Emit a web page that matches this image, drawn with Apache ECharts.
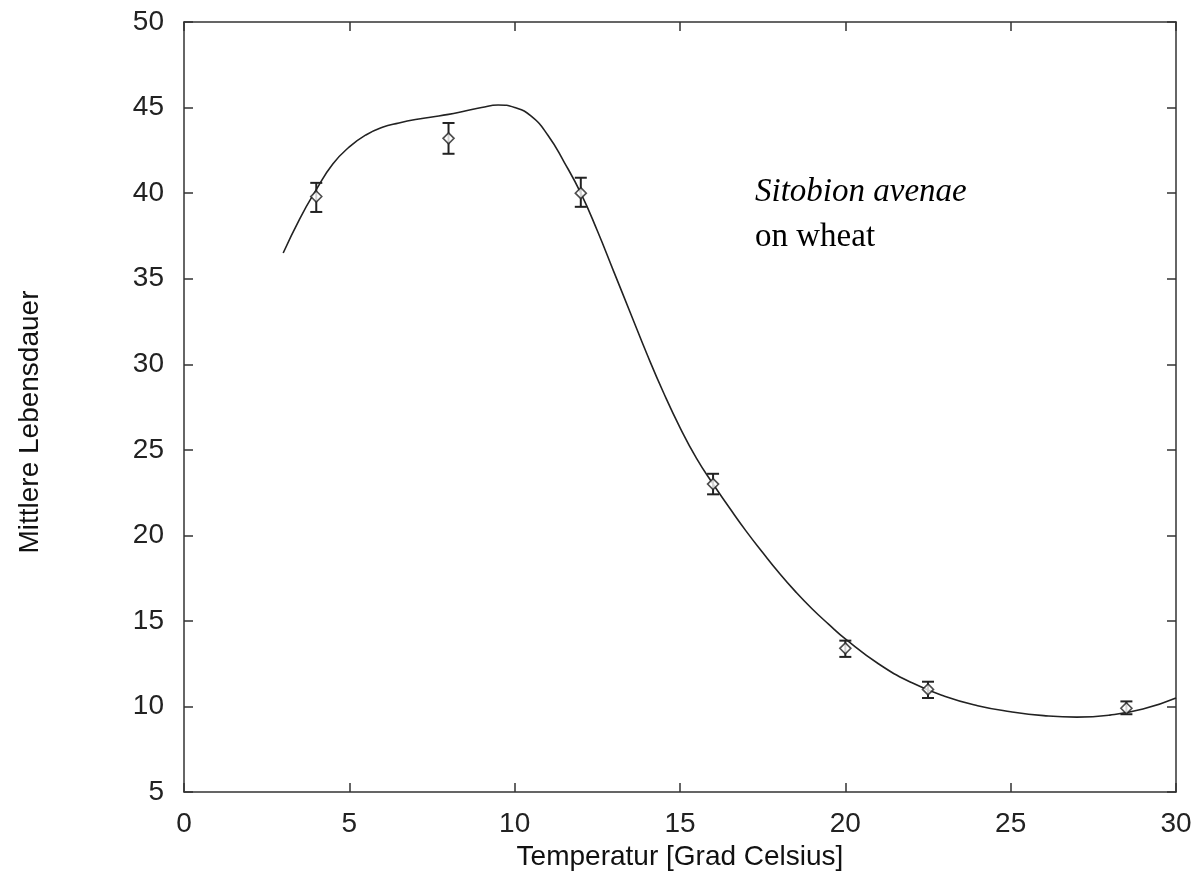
<!DOCTYPE html>
<html>
<head>
<meta charset="utf-8">
<script src="https://cdn.jsdelivr.net/npm/echarts@6/dist/echarts.min.js"></script>
<style>html,body{margin:0;padding:0;background:#fff}#c{width:1198px;height:876px}</style>
</head>
<body>
<div id="c"></div>
<script>
// Measured data points (temperature, mean lifespan, error range)
var tempPoints = [4, 8, 12, 16, 20, 22.5, 28.5];
var lifeMean   = [39.8, 43.2, 40.0, 23.0, 13.4, 11.0, 9.9];
var errLow     = [38.9, 42.3, 39.2, 22.4, 12.9, 10.5, 9.55];
var errHigh    = [40.6, 44.1, 40.9, 23.6, 13.85, 11.45, 10.3];

// Fitted curve
var curveX = [3, 3.5, 4, 4.5, 5, 5.5, 6, 6.5, 7, 7.5, 8, 8.5, 9, 9.5, 10, 10.5, 11, 11.5, 12, 12.5, 13, 13.5, 14, 14.5, 15, 15.5, 16, 16.5, 17, 17.5, 18, 18.5, 19, 19.5, 20, 21, 22, 23, 24, 25, 26, 27, 28, 29, 30];
var curveY = [36.5, 38.5, 40.2, 41.7, 42.7, 43.4, 43.85, 44.1, 44.3, 44.45, 44.6, 44.8, 45.0, 45.15, 45.0, 44.5, 43.4, 41.8, 40.0, 37.8, 35.4, 33.0, 30.6, 28.35, 26.3, 24.5, 23.0, 21.6, 20.25, 19.0, 17.8, 16.7, 15.7, 14.8, 13.95, 12.5, 11.4, 10.6, 10.05, 9.7, 9.47, 9.38, 9.5, 9.85, 10.5];

var xTicks = [0, 5, 10, 15, 20, 25, 30];
var yTicks = [5, 10, 15, 20, 25, 30, 35, 40, 45, 50];

var xTitle = 'Temperatur [Grad Celsius]';
var yTitle = 'Mittlere Lebensdauer';
var noteItalic = 'Sitobion avenae';
var noteNormal = 'on wheat';

var curveData = curveX.map(function (x, i) { return [x, curveY[i]]; });
var pointData = tempPoints.map(function (x, i) { return [x, lifeMean[i]]; });
var errData = tempPoints.map(function (x, i) { return [x, errLow[i], errHigh[i]]; });

var frame = '#333';
var sans = 'Liberation Sans, Arial, sans-serif';
function tick() { return { show: true, inside: true, length: 9, lineStyle: { color: frame, width: 1.5 } }; }
function line() { return { show: true, onZero: false, lineStyle: { color: frame, width: 1.5 } }; }

var chart = echarts.init(document.getElementById('c'));
chart.setOption({
  backgroundColor: '#fff',
  animation: false,
  grid: { left: 184, right: 22, top: 22, bottom: 82, containLabel: false },
  xAxis: [{
    type: 'value', position: 'bottom', min: 0, max: 30, interval: 5,
    name: xTitle, nameLocation: 'middle', nameGap: 50,
    nameTextStyle: { fontFamily: sans, fontSize: 28, color: '#111' },
    axisLine: line(),
    axisTick: tick(),
    axisLabel: { fontFamily: sans, fontSize: 28, color: '#222', margin: 18,
      formatter: function (v) { return xTicks.indexOf(v) >= 0 ? String(v) : ''; } },
    splitLine: { show: false }
  }, {
    type: 'value', position: 'top', min: 0, max: 30, interval: 5,
    axisLine: line(),
    axisTick: tick(), axisLabel: { show: false }, splitLine: { show: false }
  }],
  yAxis: [{
    type: 'value', position: 'left', min: 5, max: 50, interval: 5,
    name: yTitle, nameLocation: 'middle', nameGap: 140,
    nameTextStyle: { fontFamily: sans, fontSize: 28, color: '#111', padding: [0, 30, 0, 0] },
    axisLine: line(),
    axisTick: tick(),
    axisLabel: { fontFamily: sans, fontSize: 28, color: '#222', margin: 20, inside: false,
      formatter: function (v) { return yTicks.indexOf(v) >= 0 ? String(v) : ''; } },
    splitLine: { show: false }
  }, {
    type: 'value', position: 'right', min: 5, max: 50, interval: 5,
    axisLine: line(),
    axisTick: tick(), axisLabel: { show: false }, splitLine: { show: false }
  }],
  series: [{
    type: 'line', data: curveData, smooth: 0.5, symbol: 'none',
    lineStyle: { color: '#222', width: 1.6 }, z: 2
  }, {
    type: 'custom', data: errData, z: 3,
    renderItem: function (params, api) {
      var x = api.value(0);
      var lo = api.coord([x, api.value(1)]);
      var hi = api.coord([x, api.value(2)]);
      var cw = 6;
      var st = { stroke: '#222', lineWidth: 2 };
      return { type: 'group', children: [
        { type: 'line', shape: { x1: lo[0], y1: lo[1], x2: hi[0], y2: hi[1] }, style: st },
        { type: 'line', shape: { x1: lo[0] - cw, y1: lo[1], x2: lo[0] + cw, y2: lo[1] }, style: st },
        { type: 'line', shape: { x1: hi[0] - cw, y1: hi[1], x2: hi[0] + cw, y2: hi[1] }, style: st }
      ] };
    }
  }, {
    type: 'scatter', data: pointData, symbol: 'diamond', symbolSize: [11, 11], z: 4,
    itemStyle: { color: '#fff', borderColor: '#222', borderWidth: 1.6 }
  }],
  graphic: [{
    type: 'text', left: 755, top: 176,
    style: {
      text: '{i|' + noteItalic + '}\n{n|' + noteNormal + '}',
      rich: {
        i: { fontFamily: 'Liberation Serif, Times New Roman, serif', fontStyle: 'italic', fontSize: 33, lineHeight: 45, fill: '#000' },
        n: { fontFamily: 'Liberation Serif, Times New Roman, serif', fontSize: 33, lineHeight: 45, fill: '#000' }
      }
    }
  }]
});
</script>
</body>
</html>
